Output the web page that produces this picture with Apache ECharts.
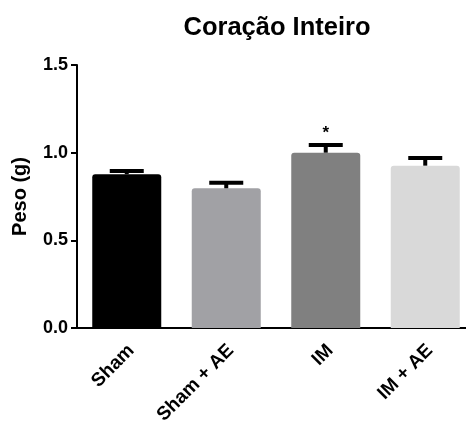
<!DOCTYPE html>
<html><head><meta charset="utf-8">
<script src="https://cdn.jsdelivr.net/npm/echarts@6/dist/echarts.min.js"></script>
<style>html,body{margin:0;padding:0;background:#fff}#c{width:466px;height:421px}</style>
</head><body><div id="c"></div>
<script>
var categories = ['Sham', 'Sham + AE', 'IM', 'IM + AE'];
var means = [0.877, 0.797, 1.00, 0.926];
var errors = [0.019, 0.032, 0.044, 0.044];
var significance = ['', '', '*', ''];
var barColors = ['#000000', '#a1a1a5', '#808080', '#d9d9d9'];
var yTicks = [0, 0.5, 1.0, 1.5];

var FONT = 'Liberation Sans';
var chart = echarts.init(document.getElementById('c'));
chart.setOption({
  animation: false,
  title: {
    text: 'Coração Inteiro', left: 272, top: 10, textAlign: 'center',
    textStyle: {fontFamily: FONT, fontWeight: 'bold', fontSize: 25.5, color: '#000'}
  },
  grid: {left: 77, top: 65, width: 398, height: 263, containLabel: false, outerBoundsMode: 'none'},
  xAxis: {
    type: 'category', data: categories,
    axisLine: {lineStyle: {color: '#000', width: 2}},
    axisTick: {alignWithLabel: true, length: 6, lineStyle: {color: '#000', width: 2.5}},
    axisLabel: {rotate: 45, fontFamily: FONT, fontWeight: 'bold', fontSize: 19, color: '#000', margin: 15, interval: 0,
      verticalAlign: 'top', lineHeight: 13}
  },
  yAxis: {
    type: 'value', min: 0, max: 1.5, interval: 0.5,
    name: 'Peso (g)', nameLocation: 'middle', nameGap: 47,
    nameTextStyle: {fontFamily: FONT, fontWeight: 'bold', fontSize: 20, color: '#000'},
    axisLine: {show: true, lineStyle: {color: '#000', width: 2}},
    axisTick: {show: true, length: 6, lineStyle: {color: '#000', width: 2}},
    splitLine: {show: false},
    axisLabel: {fontFamily: FONT, fontWeight: 'bold', fontSize: 18, color: '#000', margin: 9,
      formatter: function (v) { return v.toFixed(1); }}
  },
  series: [
    {
      type: 'bar', barWidth: 69,
      data: means.map(function (v, i) { return {value: v, itemStyle: {color: barColors[i], borderRadius: [3, 3, 0, 0]}}; }),
      z: 2
    },
    {
      type: 'custom', z: 3,
      data: means.map(function (v, i) { return [i, v, errors[i]]; }),
      renderItem: function (params, api) {
        var i = api.value(0), m = api.value(1), e = api.value(2);
        var p0 = api.coord([i, m]);
        var p1 = api.coord([i, m + e]);
        var half = 17;
        var children = [
          {type: 'line', shape: {x1: p0[0], y1: p0[1], x2: p1[0], y2: p1[1]}, style: {stroke: '#000', lineWidth: 4}},
          {type: 'line', shape: {x1: p1[0] - half, y1: p1[1], x2: p1[0] + half, y2: p1[1]}, style: {stroke: '#000', lineWidth: 4}}
        ];
        var s = significance[i];
        if (s) {
          children.push({type: 'text', style: {text: s, x: p1[0], y: p1[1] - 3, textAlign: 'center', textVerticalAlign: 'bottom',
            font: 'bold 17px ' + FONT, fill: '#000'}});
        }
        return {type: 'group', children: children};
      }
    }
  ]
});
</script></body></html>
